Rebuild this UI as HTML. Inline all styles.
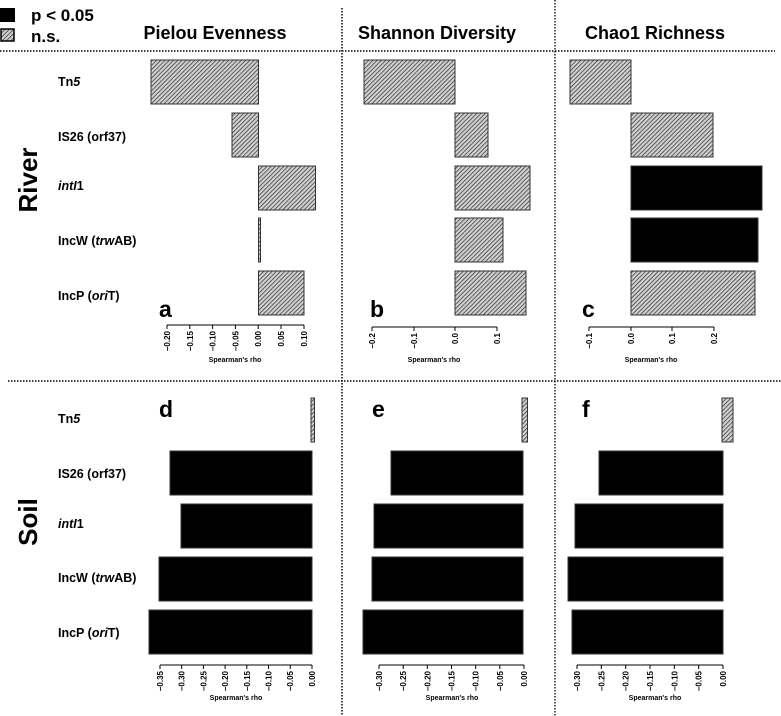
<!DOCTYPE html>
<html><head><meta charset="utf-8"><style>
html,body{margin:0;padding:0;background:#fff;}
svg{display:block;font-family:"Liberation Sans",Arial,sans-serif;font-weight:bold;}
</style></head><body>
<svg width="781" height="716" viewBox="0 0 781 716" xmlns="http://www.w3.org/2000/svg">
<defs>
<pattern id="h" patternUnits="userSpaceOnUse" width="3" height="3" patternTransform="rotate(45)">
<rect width="3" height="3" fill="#d0d0d0"/>
<line x1="0" y1="0" x2="0" y2="3" stroke="#222" stroke-width="1.3"/>
</pattern>
</defs>
<line x1="0" y1="51" x2="775" y2="51" stroke="#000" stroke-width="1.5" stroke-dasharray="1.5,1.5"/>
<line x1="8" y1="381" x2="781" y2="381" stroke="#000" stroke-width="1.5" stroke-dasharray="1.5,1.5"/>
<line x1="342" y1="8" x2="342" y2="716" stroke="#000" stroke-width="1.5" stroke-dasharray="1.5,1.5"/>
<line x1="555" y1="0" x2="555" y2="716" stroke="#000" stroke-width="1.3" stroke-dasharray="1.5,1.5"/>
<rect x="0" y="8" width="15" height="14" fill="#000"/>
<text x="31" y="21" font-size="17">p &lt; 0.05</text>
<rect x="1" y="29" width="13" height="12" fill="url(#h)" stroke="#000" stroke-width="1.5"/>
<text x="31" y="42" font-size="17">n.s.</text>
<text x="215" y="39" font-size="18" text-anchor="middle">Pielou Evenness</text>
<text x="437" y="39" font-size="18" text-anchor="middle">Shannon Diversity</text>
<text x="655" y="39" font-size="18" text-anchor="middle">Chao1 Richness</text>
<text transform="translate(37,180) rotate(-90)" font-size="26" text-anchor="middle">River</text>
<text transform="translate(37,522) rotate(-90)" font-size="26" text-anchor="middle">Soil</text>
<g font-size="12.5">
<text x="58" y="86">Tn<tspan font-style="italic">5</tspan></text>
<text x="58" y="141">IS26 (orf37)</text>
<text x="58" y="190"><tspan font-style="italic">intI</tspan>1</text>
<text x="58" y="245">IncW (<tspan font-style="italic">trw</tspan>AB)</text>
<text x="58" y="300">IncP (<tspan font-style="italic">ori</tspan>T)</text>
<text x="58" y="423">Tn<tspan font-style="italic">5</tspan></text>
<text x="58" y="478">IS26 (orf37)</text>
<text x="58" y="528"><tspan font-style="italic">intI</tspan>1</text>
<text x="58" y="582">IncW (<tspan font-style="italic">trw</tspan>AB)</text>
<text x="58" y="637">IncP (<tspan font-style="italic">ori</tspan>T)</text>
</g>
<g font-size="23">
<text x="159" y="317">a</text><text x="370" y="317">b</text><text x="582" y="317">c</text>
<text x="159" y="417">d</text><text x="372" y="417">e</text><text x="582" y="417">f</text>
</g>
<g stroke="#333" stroke-width="1">
<rect x="151" y="60" width="107.5" height="44" fill="url(#h)"/>
<rect x="232" y="113" width="26.5" height="44" fill="url(#h)"/>
<rect x="258.5" y="166" width="57" height="44" fill="url(#h)"/>
<rect x="258.5" y="218" width="2" height="44" fill="url(#h)"/>
<rect x="258.5" y="271" width="45.5" height="44" fill="url(#h)"/>
<rect x="364" y="60" width="91" height="44" fill="url(#h)"/>
<rect x="455" y="113" width="33" height="44" fill="url(#h)"/>
<rect x="455" y="166" width="75" height="44" fill="url(#h)"/>
<rect x="455" y="218" width="48" height="44" fill="url(#h)"/>
<rect x="455" y="271" width="71" height="44" fill="url(#h)"/>
<rect x="570" y="60" width="61" height="44" fill="url(#h)"/>
<rect x="631" y="113" width="82" height="44" fill="url(#h)"/>
<rect x="631" y="166" width="131" height="44" fill="#000"/>
<rect x="631" y="218" width="127" height="44" fill="#000"/>
<rect x="631" y="271" width="124" height="44" fill="url(#h)"/>
<rect x="311" y="398" width="3.5" height="44" fill="url(#h)"/>
<rect x="170" y="451" width="142" height="44" fill="#000"/>
<rect x="181" y="504" width="131" height="44" fill="#000"/>
<rect x="159" y="557" width="153" height="44" fill="#000"/>
<rect x="149" y="610" width="163" height="44" fill="#000"/>
<rect x="522" y="398" width="5.5" height="44" fill="url(#h)"/>
<rect x="391" y="451" width="132" height="44" fill="#000"/>
<rect x="374" y="504" width="149" height="44" fill="#000"/>
<rect x="372" y="557" width="151" height="44" fill="#000"/>
<rect x="363" y="610" width="160" height="44" fill="#000"/>
<rect x="722" y="398" width="11" height="44" fill="url(#h)"/>
<rect x="599" y="451" width="124" height="44" fill="#000"/>
<rect x="575" y="504" width="148" height="44" fill="#000"/>
<rect x="568" y="557" width="155" height="44" fill="#000"/>
<rect x="572" y="610" width="151" height="44" fill="#000"/>
</g>
<g stroke="#000" stroke-width="1" fill="none">
<path d="M167,325H304 M167,325v4 M189.8,325v4 M212.6,325v4 M235.4,325v4 M258.2,325v4 M281,325v4 M304,325v4"/>
<path d="M372,327H497 M372,327v4 M414,327v4 M455,327v4 M497,327v4"/>
<path d="M589,327H714 M589,327v4 M631,327v4 M672,327v4 M714,327v4"/>
<path d="M160,665H312 M160,665v4 M181.7,665v4 M203.4,665v4 M225.1,665v4 M246.8,665v4 M268.5,665v4 M290.2,665v4 M312,665v4"/>
<path d="M379,665H524 M379,665v4 M403.2,665v4 M427.3,665v4 M451.5,665v4 M475.7,665v4 M499.8,665v4 M524,665v4"/>
<path d="M577,665H723 M577,665v4 M601.3,665v4 M625.7,665v4 M650,665v4 M674.3,665v4 M698.7,665v4 M723,665v4"/>
</g>
<g font-size="8" text-anchor="end">
<text transform="translate(170,331) rotate(-90)">−0.20</text>
<text transform="translate(192.8,331) rotate(-90)">−0.15</text>
<text transform="translate(215.6,331) rotate(-90)">−0.10</text>
<text transform="translate(238.4,331) rotate(-90)">−0.05</text>
<text transform="translate(261.2,331) rotate(-90)">0.00</text>
<text transform="translate(284,331) rotate(-90)">0.05</text>
<text transform="translate(307,331) rotate(-90)">0.10</text>
<text transform="translate(375,333) rotate(-90)">−0.2</text>
<text transform="translate(417,333) rotate(-90)">−0.1</text>
<text transform="translate(458,333) rotate(-90)">0.0</text>
<text transform="translate(500,333) rotate(-90)">0.1</text>
<text transform="translate(592,333) rotate(-90)">−0.1</text>
<text transform="translate(634,333) rotate(-90)">0.0</text>
<text transform="translate(675,333) rotate(-90)">0.1</text>
<text transform="translate(717,333) rotate(-90)">0.2</text>
<text transform="translate(163,671) rotate(-90)">−0.35</text>
<text transform="translate(184.7,671) rotate(-90)">−0.30</text>
<text transform="translate(206.4,671) rotate(-90)">−0.25</text>
<text transform="translate(228.1,671) rotate(-90)">−0.20</text>
<text transform="translate(249.8,671) rotate(-90)">−0.15</text>
<text transform="translate(271.5,671) rotate(-90)">−0.10</text>
<text transform="translate(293.2,671) rotate(-90)">−0.05</text>
<text transform="translate(315,671) rotate(-90)">0.00</text>
<text transform="translate(382,671) rotate(-90)">−0.30</text>
<text transform="translate(406.2,671) rotate(-90)">−0.25</text>
<text transform="translate(430.3,671) rotate(-90)">−0.20</text>
<text transform="translate(454.5,671) rotate(-90)">−0.15</text>
<text transform="translate(478.7,671) rotate(-90)">−0.10</text>
<text transform="translate(502.8,671) rotate(-90)">−0.05</text>
<text transform="translate(527,671) rotate(-90)">0.00</text>
<text transform="translate(580,671) rotate(-90)">−0.30</text>
<text transform="translate(604.3,671) rotate(-90)">−0.25</text>
<text transform="translate(628.7,671) rotate(-90)">−0.20</text>
<text transform="translate(653,671) rotate(-90)">−0.15</text>
<text transform="translate(677.3,671) rotate(-90)">−0.10</text>
<text transform="translate(701.7,671) rotate(-90)">−0.05</text>
<text transform="translate(726,671) rotate(-90)">0.00</text>
</g>
<g font-size="7" text-anchor="middle">
<text x="235" y="362">Spearman's rho</text>
<text x="434" y="362">Spearman's rho</text>
<text x="651" y="362">Spearman's rho</text>
<text x="236" y="700">Spearman's rho</text>
<text x="452" y="700">Spearman's rho</text>
<text x="655" y="700">Spearman's rho</text>
</g>
</svg>
</body></html>
